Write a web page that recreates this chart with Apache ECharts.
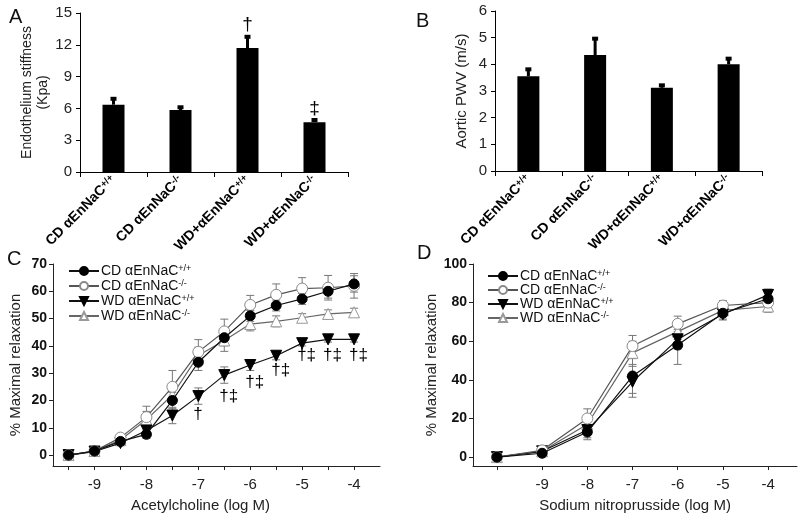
<!DOCTYPE html>
<html><head><meta charset="utf-8">
<script src="https://cdn.jsdelivr.net/npm/echarts@6/dist/echarts.min.js"></script>
<style>html,body{margin:0;padding:0;background:#fff}#c{width:800px;height:514px}</style>
</head><body><div id="c"></div>
<script>
// ---------- DATA ----------
const groupsAB = ['CD αEnNaC+/+', 'CD αEnNaC-/-', 'WD+αEnNaC+/+', 'WD+αEnNaC-/-'];
const stiffness = [6.35, 5.85, 11.7, 4.7];
const stiffnessErr = [0.65, 0.35, 1.15, 0.3];
const stiffnessMarks = ['', '', '†', '‡'];
const stiffnessMarkY = [0, 0, 13.9, 6.0];
const pwv = [3.55, 4.35, 3.12, 4.0];
const pwvErr = [0.3, 0.65, 0.13, 0.25];

const seriesNames = ['CD αEnNaC+/+', 'CD αEnNaC-/-', 'WD αEnNaC+/+', 'WD αEnNaC-/-'];

const achDose = [-9.5, -9, -8.5, -8, -7.5, -7, -6.5, -6, -5.5, -5, -4.5, -4];
const achCDwt = [0, 1.5, 5, 7.6, 20, 34, 43, 51, 54.8, 57.2, 60, 62.7];
const achCDko = [0, 1.5, 6.4, 13.9, 25, 37.8, 45.3, 55, 58.7, 61, 61.3, 62];
const achWDwt = [0, 1.3, 4.4, 9, 14.5, 21.6, 29.3, 33, 36.4, 41, 42.4, 42.4];
const achWDko = [0, 1.5, 5.5, 13, 22, 36.5, 42, 48, 49, 50.3, 51.7, 52.3];
const achCDwtErr = [0.5, 0.5, 1, 1.5, 3, 3, 3, 2, 2, 2, 2.5, 3];
const achCDkoErr = [0.5, 0.5, 1, 4, 6, 4.5, 4.5, 3.5, 4, 4, 4.5, 4.5];
const achWDwtErr = [0.5, 0.5, 1, 1.5, 3, 3, 3, 2, 1.5, 1, 1, 1];
const achWDkoErr = [0.5, 0.5, 1, 3, 3, 3, 4, 2.5, 2, 1.5, 1.5, 1.5];
const achMarkX = [-7, -6.5, -6, -5.5, -5, -4.5, -4];
const achMarkY = [15, 21.5, 26.5, 31, 36.5, 36.5, 36.5];
const achMarkText = ['†', '†‡', '†‡', '†‡', '†‡', '†‡', '†‡'];

const snpDose = [-10, -9, -8, -7, -6, -5, -4];
const snpCDwt = [0, 2, 13, 42, 58, 74.5, 82];
const snpCDko = [0, 3.5, 20, 57.5, 69, 78.5, 80];
const snpWDwt = [0, 3, 14, 39, 61, 74, 84];
const snpWDko = [0, 3, 17, 54, 65, 76, 78];
const snpCDwtErr = [0.5, 1, 4, 9, 10, 3, 3];
const snpCDkoErr = [0.5, 1, 5, 5.5, 4, 2.5, 3];
const snpWDwtErr = [0.5, 1, 4, 8, 5, 3, 3];
const snpWDkoErr = [0.5, 1, 4, 6, 4, 3, 3];

const yTicksC = [0, 10, 20, 30, 40, 50, 60, 70];
const xTicksC = achDose;
const xLabelsC = [-9, -8, -7, -6, -5, -4];
const yTicksD = [0, 20, 40, 60, 80, 100];
const xTicksD = snpDose;
const xLabelsD = [-9, -8, -7, -6, -5, -4];

// ---------- HELPERS ----------
const FONT = "'Liberation Sans', Arial, sans-serif";
function supFmt(name) {
  const m = name.match(/^(.*?)([+-]\/[+-])$/);
  return m ? '{b|' + m[1] + '}{s|' + m[2] + '}' : name;
}
const zip = (xs, ys, es) => xs.map((x, i) => [x, ys[i], es[i]]);

function barErr() {
  return function (params, api) {
    const v = api.value(1), e = api.value(2);
    const p0 = api.coord([api.value(0), v]);
    const p1 = api.coord([api.value(0), v + e]);
    return { type: 'group', children: [
      { type: 'line', shape: { x1: p0[0], y1: p0[1], x2: p1[0], y2: p1[1] }, style: { stroke: '#000', lineWidth: 3 } },
      { type: 'rect', shape: { x: p1[0] - 3, y: p1[1] - 1, width: 6, height: 4 }, style: { fill: '#000' } }
    ]};
  };
}
function lineErr(color) {
  return function (params, api) {
    const x = api.value(0), y = api.value(1), e = api.value(2);
    const t = api.coord([x, y + e]), b = api.coord([x, y - e]);
    const st = { stroke: color, lineWidth: 1 };
    return { type: 'group', children: [
      { type: 'line', shape: { x1: t[0], y1: t[1], x2: b[0], y2: b[1] }, style: st },
      { type: 'line', shape: { x1: t[0] - 4, y1: t[1], x2: t[0] + 4, y2: t[1] }, style: st },
      { type: 'line', shape: { x1: b[0] - 4, y1: b[1], x2: b[0] + 4, y2: b[1] }, style: st }
    ]};
  };
}
function markRender(texts, size, left) {
  return function (params, api) {
    const p = api.coord([api.value(0), api.value(1)]);
    return { type: 'text', x: left ? p[0] - 5 : p[0], y: p[1],
      style: { text: texts[params.dataIndex], fill: '#000', font: size + 'px ' + FONT,
        align: left ? 'left' : 'center', verticalAlign: 'middle' } };
  };
}

const styles = [
  { symbol: 'circle', size: 10, fill: '#000', border: '#000', line: '#111', rot: 0 },
  { symbol: 'circle', size: 11, fill: '#fff', border: '#8a8a8a', line: '#555', rot: 0 },
  { symbol: 'triangle', size: 11, fill: '#000', border: '#000', line: '#111', rot: 180 },
  { symbol: 'triangle', size: 11, fill: '#fff', border: '#999', line: '#666', rot: 0 }
];

function lineSeries(gi, xs, ys, idx) {
  const s = styles[idx];
  return { type: 'line', name: seriesNames[idx], xAxisIndex: gi, yAxisIndex: gi,
    data: xs.map((x, i) => [x, ys[i]]), symbol: s.symbol, symbolSize: s.size, symbolRotate: s.rot,
    showAllSymbol: true, z: 5 + (3 - idx),
    itemStyle: { color: s.fill, borderColor: s.border, borderWidth: 1 },
    lineStyle: { color: s.line, width: 1.2 } };
}
function errSeries(gi, xs, ys, es) {
  return { type: 'custom', xAxisIndex: gi, yAxisIndex: gi, renderItem: lineErr('#777'),
    data: zip(xs, ys, es), z: 3, silent: true };
}

const richSup = {
  b: { fontSize: 14, fontFamily: FONT, color: '#111', lineHeight: 14 },
  s: { fontSize: 9, fontFamily: FONT, color: '#111', verticalAlign: 'top', lineHeight: 14 }
};
const richSupBold = {
  b: { fontSize: 14, fontFamily: FONT, fontWeight: 'bold', color: '#000', lineHeight: 15 },
  s: { fontSize: 9.5, fontFamily: FONT, fontWeight: 'bold', color: '#000', verticalAlign: 'top', lineHeight: 15 }
};

function catAxis(gi) {
  return { type: 'category', gridIndex: gi, data: groupsAB,
    axisLine: { lineStyle: { color: '#000', width: 1 } },
    axisTick: { show: true, length: 5, lineStyle: { color: '#000' } },
    axisLabel: { rotate: 45, margin: 6, formatter: supFmt, rich: richSupBold, interval: 0 } };
}
function valAxisAB(gi, max, interval, name, gap, nameSize) {
  return { type: 'value', gridIndex: gi, min: 0, max: max, interval: interval,
    name: name, nameLocation: 'middle', nameGap: gap,
    nameTextStyle: { fontSize: nameSize, fontFamily: FONT, color: '#222', lineHeight: 16 },
    axisLine: { show: true, lineStyle: { color: '#000' } },
    axisTick: { show: true, length: 4, lineStyle: { color: '#000' } },
    splitLine: { show: false },
    axisLabel: { fontSize: 15, fontFamily: FONT, color: '#222', margin: 8 } };
}
function valAxisX(gi, min, max, ticks, labels, name, pad) {
  return { type: 'value', gridIndex: gi, min: min, max: max,
    name: name, nameLocation: 'middle', nameGap: 32,
    nameTextStyle: { fontSize: 15, fontFamily: FONT, color: '#222', padding: pad },
    axisLine: { show: true, onZero: false, lineStyle: { color: '#222' } },
    axisTick: { show: true, customValues: ticks, length: 4, lineStyle: { color: '#222' } },
    axisLabel: { customValues: labels, fontSize: 15, fontFamily: FONT, color: '#222', margin: 11 },
    splitLine: { show: false } };
}
function valAxisY(gi, min, max, ticks, name, gap) {
  return { type: 'value', gridIndex: gi, min: min, max: max,
    name: name, nameLocation: 'middle', nameGap: gap,
    nameTextStyle: { fontSize: 15, fontFamily: FONT, color: '#222' },
    axisLine: { show: true, onZero: false, lineStyle: { color: '#222' } },
    axisTick: { show: true, customValues: ticks, length: 4, lineStyle: { color: '#222' } },
    axisLabel: { customValues: ticks, fontSize: 14, fontWeight: 'bold', fontFamily: FONT, color: '#111', margin: 6 },
    splitLine: { show: false } };
}
function legendAt(left, top, gap) {
  return { orient: 'vertical', left: left, top: top, itemWidth: 30, itemHeight: 10, itemGap: gap,
    data: seriesNames, formatter: supFmt, selectedMode: false,
    textStyle: { rich: richSup, padding: [0, 0, 0, -3] } };
}

const chart = echarts.init(document.getElementById('c'), null, { renderer: 'canvas' });
const option = {
  animation: false,
  backgroundColor: '#fff',
  title: [
    { text: 'A', left: 4, top: 2, textStyle: { fontSize: 20, fontWeight: 'normal', fontFamily: FONT, color: '#111' } },
    { text: 'B', left: 411, top: 6, textStyle: { fontSize: 20, fontWeight: 'normal', fontFamily: FONT, color: '#111' } },
    { text: 'C', left: 2, top: 244, textStyle: { fontSize: 20, fontWeight: 'normal', fontFamily: FONT, color: '#111' } },
    { text: 'D', left: 412, top: 238, textStyle: { fontSize: 20, fontWeight: 'normal', fontFamily: FONT, color: '#111' } }
  ],
  grid: [
    { left: 80, top: 13, width: 268, height: 159 },
    { left: 495, top: 11, width: 267, height: 160 },
    { left: 53, top: 264, width: 327, height: 208 },
    { left: 473, top: 264, width: 324, height: 205 }
  ],
  legend: [legendAt(63, 259, 1), legendAt(482, 264, 0)],
  xAxis: [
    catAxis(0), catAxis(1),
    valAxisX(2, -9.8, -3.5, xTicksC, xLabelsC, 'Acetylcholine (log M)', [0, 32, 0, 0]),
    valAxisX(3, -10.53, -3.36, xTicksD, xLabelsD, 'Sodium nitroprusside (log M)', [0, 0, 0, 0])
  ],
  yAxis: [
    valAxisAB(0, 15, 3, 'Endothelium stiffness\n(Kpa)', 29, 14),
    valAxisAB(1, 6, 1, 'Aortic PWV (m/s)', 25, 15),
    valAxisY(2, -4, 70, yTicksC, '% Maximal relaxation', 30),
    valAxisY(3, -4.6, 100, yTicksD, '% Maximal relaxation', 33)
  ],
  series: [
    { type: 'bar', xAxisIndex: 0, yAxisIndex: 0, data: stiffness, barWidth: 22, itemStyle: { color: '#000' }, z: 2 },
    { type: 'custom', xAxisIndex: 0, yAxisIndex: 0, renderItem: barErr(), data: stiffness.map((v, i) => [i, v, stiffnessErr[i]]), z: 3 },
    { type: 'custom', xAxisIndex: 0, yAxisIndex: 0, renderItem: markRender(stiffnessMarks, 19, false),
      data: stiffnessMarkY.map((v, i) => [i, v]), z: 4 },
    { type: 'bar', xAxisIndex: 1, yAxisIndex: 1, data: pwv, barWidth: 22, itemStyle: { color: '#000' }, z: 2 },
    { type: 'custom', xAxisIndex: 1, yAxisIndex: 1, renderItem: barErr(), data: pwv.map((v, i) => [i, v, pwvErr[i]]), z: 3 },

    errSeries(2, achDose, achCDwt, achCDwtErr),
    errSeries(2, achDose, achCDko, achCDkoErr),
    errSeries(2, achDose, achWDwt, achWDwtErr),
    errSeries(2, achDose, achWDko, achWDkoErr),
    lineSeries(2, achDose, achCDwt, 0),
    lineSeries(2, achDose, achCDko, 1),
    lineSeries(2, achDose, achWDwt, 2),
    lineSeries(2, achDose, achWDko, 3),
    { type: 'custom', xAxisIndex: 2, yAxisIndex: 2, renderItem: markRender(achMarkText, 17, true),
      data: achMarkX.map((x, i) => [x, achMarkY[i]]), z: 10 },

    errSeries(3, snpDose, snpCDwt, snpCDwtErr),
    errSeries(3, snpDose, snpCDko, snpCDkoErr),
    errSeries(3, snpDose, snpWDwt, snpWDwtErr),
    errSeries(3, snpDose, snpWDko, snpWDkoErr),
    lineSeries(3, snpDose, snpCDwt, 0),
    lineSeries(3, snpDose, snpCDko, 1),
    lineSeries(3, snpDose, snpWDwt, 2),
    lineSeries(3, snpDose, snpWDko, 3)
  ]
};
chart.setOption(option);
</script></body></html>
